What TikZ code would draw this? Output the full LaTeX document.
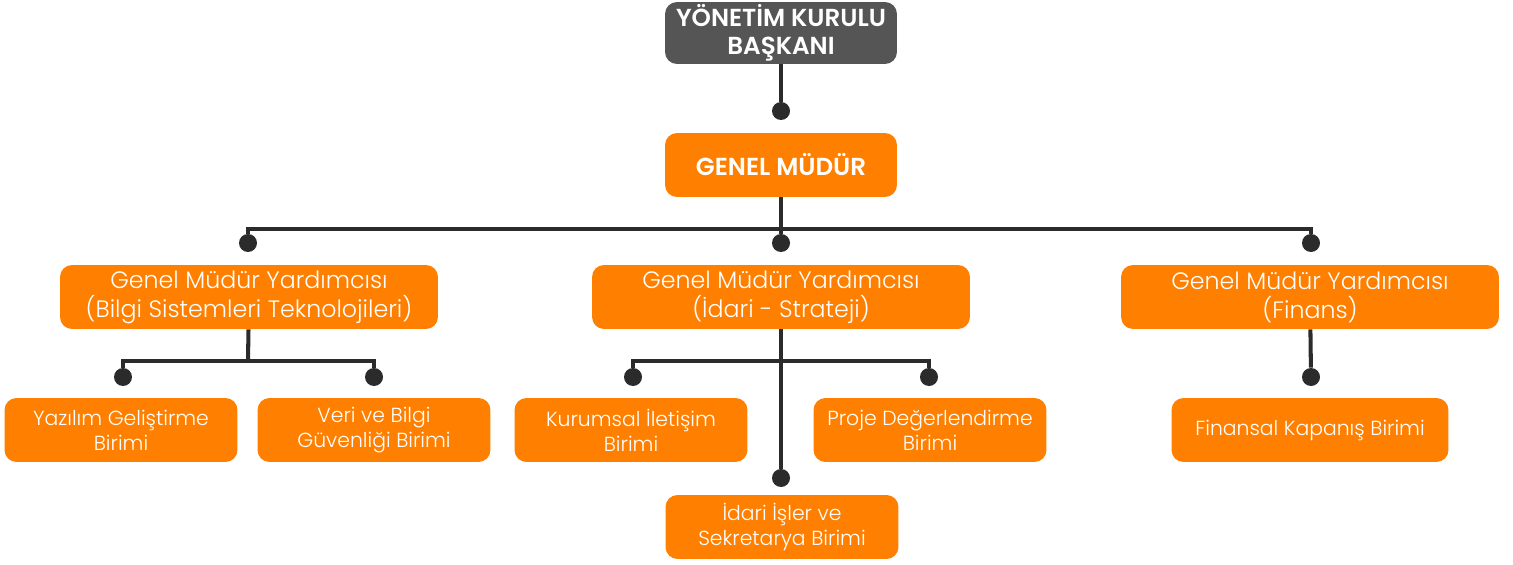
\documentclass[tikz,border=0pt]{standalone}
\usepackage{fontspec}
\setmainfont{Poppins Light}
\newfontfamily\headfont{Poppins SemiBold}
\definecolor{orgorange}{HTML}{FF8000}
\definecolor{orggray}{HTML}{555555}
\definecolor{orgline}{HTML}{2B2B2B}

\begin{document}
\begin{tikzpicture}[x=0.02cm,y=-0.02cm,
  unitbox/.style={fill=orgorange,text=white,rounded corners=0.24cm,align=center,
    inner sep=0pt,minimum height=1.28cm,font=\fontsize{11.6}{14.2}\selectfont},
  headbox/.style={unitbox,minimum width=4.64cm,font=\headfont\fontsize{14}{16}\selectfont},
  deputybox/.style={unitbox,minimum width=7.56cm,font=\fontsize{13.5}{16.5}\selectfont},
  smallbox/.style={unitbox,minimum width=4.66cm},
  dot/.style={circle,fill=orgline,inner sep=0pt,minimum size=0.36cm},
  link/.style={draw=orgline,line width=2.3pt}]
\useasboundingbox (0,0) rectangle (1513,564);

\node[headbox,fill=orggray,minimum height=1.24cm] (ykb) at (781,33) {YÖNETİM KURULU\\BAŞKANI};
\node[headbox] (gm) at (781,165) {GENEL MÜDÜR};
\node[deputybox] (gmy1) at (249,297) {Genel Müdür Yardımcısı\\(Bilgi Sistemleri Teknolojileri)};
\node[deputybox] (gmy2) at (781,297) {Genel Müdür Yardımcısı\\(İdari - Strateji)};
\node[deputybox] (gmy3) at (1310,297) {Genel Müdür Yardımcısı\\(Finans)};
\node[smallbox] (yazilim) at (121,430) {Yazılım Geliştirme\\Birimi};
\node[smallbox] (veri) at (374,430) {Veri ve Bilgi\\Güvenliği Birimi};
\node[smallbox] (kurumsal) at (631,430) {Kurumsal İletişim\\Birimi};
\node[smallbox] (proje) at (930,430) {Proje Değerlendirme\\Birimi};
\node[smallbox] (idari) at (782,527) {İdari İşler ve\\Sekretarya Birimi};
\node[unitbox,minimum width=5.54cm] (finans) at (1310,430) {Finansal Kapanış Birimi};

\node[dot] (d-gm) at (781,111) {};
\node[dot] (d-gmy1) at (248,243) {};
\node[dot] (d-gmy2) at (781,243) {};
\node[dot] (d-gmy3) at (1311,243) {};
\node[dot] (d-yazilim) at (123,377) {};
\node[dot] (d-veri) at (374,377) {};
\node[dot] (d-kurumsal) at (633,377) {};
\node[dot] (d-proje) at (929,377) {};
\node[dot] (d-idari) at (781,478) {};
\node[dot] (d-finans) at (1311,377) {};

\coordinate (bus-gm) at (781,229);
\coordinate (bus-gmy1) at (248,361);
\coordinate (bus-gmy2) at (781,361);

\draw[link] (ykb) -- (d-gm);
\draw[link] (gm) -- (bus-gm);
\draw[link] (d-gmy1) |- (bus-gm) -| (d-gmy3);
\draw[link] (bus-gm) -- (d-gmy2);
\draw[link] (gmy1) -- (bus-gmy1);
\draw[link] (d-yazilim) |- (bus-gmy1) -| (d-veri);
\draw[link] (gmy2) -- (d-idari);
\draw[link] (d-kurumsal) |- (bus-gmy2) -| (d-proje);
\draw[link] (gmy3) -- (d-finans);
\end{tikzpicture}
\end{document}
